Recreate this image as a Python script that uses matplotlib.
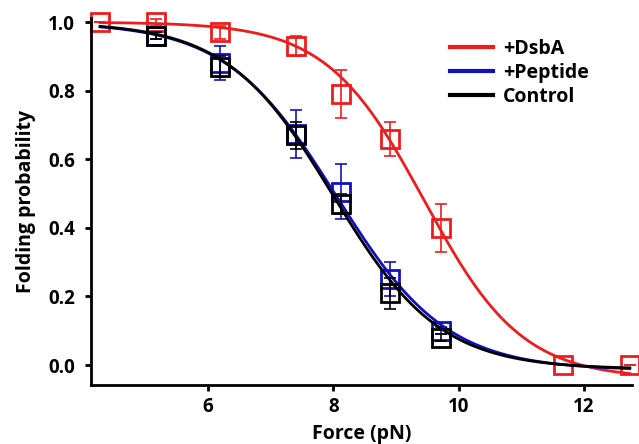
import numpy as np
import matplotlib.pyplot as plt

plt.rcParams['font.family'] = ['Open Sans', 'DejaVu Sans']
plt.rcParams['font.weight'] = 'bold'

# measured points (force in pN, folding probability, error)
dsba_f = [4.28, 5.17, 6.19, 7.40, 8.12, 8.90, 9.72, 11.66, 12.73]
dsba_p = [1.00, 1.00, 0.97, 0.93, 0.79, 0.66, 0.40, 0.00, 0.00]
dsba_e = [0.00, 0.01, 0.02, 0.03, 0.07, 0.05, 0.07, 0.00, 0.00]

pep_f = [5.17, 6.19, 7.40, 8.12, 8.90, 9.72]
pep_p = [0.96, 0.88, 0.675, 0.505, 0.25, 0.10]
pep_e = [0.01, 0.05, 0.07, 0.08, 0.05, 0.01]

ctl_f = [5.17, 6.19, 7.40, 8.12, 8.90, 9.72]
ctl_p = [0.96, 0.87, 0.67, 0.47, 0.21, 0.08]
ctl_e = [0.01, 0.03, 0.04, 0.03, 0.045, 0.01]

# Boltzmann fit parameters: A1, A2, x0, dx
fit_dsba = (1.0, -0.04, 9.45, 0.78)
fit_pep = (1.0, -0.015, 8.05, 0.88)
fit_ctl = (1.0, -0.012, 8.0, 0.85)


def boltzmann(x, a1, a2, x0, dx):
    return a2 + (a1 - a2) / (1 + np.exp((x - x0) / dx))


fig = plt.figure(figsize=(6.39, 4.44), dpi=100)
ax = fig.add_axes([0.1424, 0.1329, 0.8466, 0.8266])

xx = np.linspace(4.28, 12.73, 300)
series = [
    ('+DsbA', '#ee1c1c', dsba_f, dsba_p, dsba_e, fit_dsba),
    ('+Peptide', '#1010c0', pep_f, pep_p, pep_e, fit_pep),
    ('Control', 'black', ctl_f, ctl_p, ctl_e, fit_ctl),
]
for name, col, f, p, e, fit in series:
    ax.plot(xx, boltzmann(xx, *fit), color=col, lw=2, label=name, clip_on=False)
    ax.errorbar(f, p, yerr=e, fmt='none', ecolor=col, elinewidth=1.2,
                capsize=4, capthick=1.2, clip_on=False)
    ax.plot(f, p, 's', ms=13, mfc='none', mec=col, mew=2, clip_on=False)

ax.set_xlim(4.135, 12.765)
ax.set_ylim(-0.058, 1.012)
ax.set_xticks([6, 8, 10, 12])
ax.set_yticks([0.0, 0.2, 0.4, 0.6, 0.8, 1.0])
ax.set_yticklabels(['0.0', '0.2', '0.4', '0.6', '0.8', '1.0'])
for s in ['top', 'right']:
    ax.spines[s].set_visible(False)
for s in ['left', 'bottom']:
    ax.spines[s].set_linewidth(2)
ax.tick_params(width=2, length=4.5, labelsize=13.5)
ax.tick_params(axis='y', pad=7)
ax.tick_params(axis='x', pad=4)
for lbl in ax.get_xticklabels() + ax.get_yticklabels():
    lbl.set_fontweight('bold')

ax.set_xlabel('Force (pN)', fontsize=14, fontweight='bold', labelpad=5)
ax.set_ylabel('Folding probability', fontsize=14, fontweight='bold', labelpad=9)

leg = ax.legend(loc='upper left', bbox_to_anchor=(0.632, 0.99), frameon=False,
                handlelength=2.2, handletextpad=0.5, labelspacing=0.2,
                prop={'size': 14, 'weight': 'bold'})
for h in leg.get_lines():
    h.set_linewidth(3)

fig.savefig('out.png', dpi=100)
